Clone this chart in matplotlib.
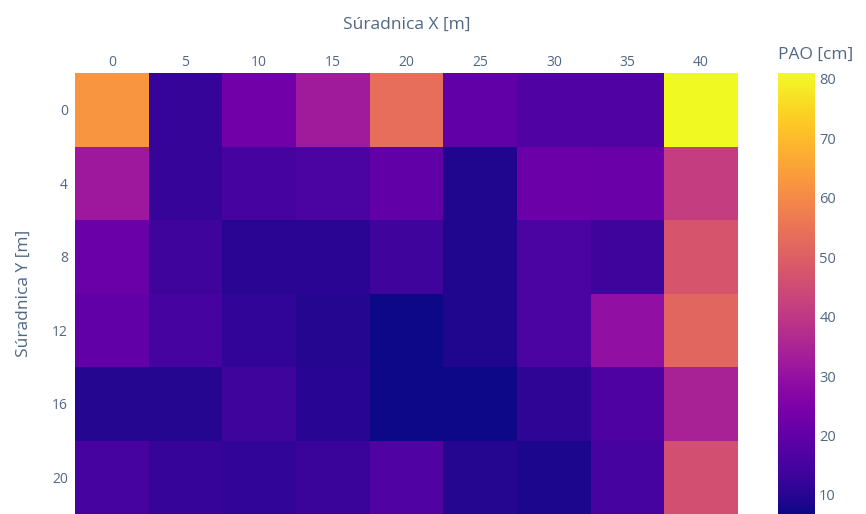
import matplotlib
matplotlib.use('Agg')
import matplotlib.pyplot as plt
import numpy as np

# súradnice meracích bodov
x_coords = [0, 5, 10, 15, 20, 25, 30, 35, 40]
y_coords = [0, 4, 8, 12, 16, 20]

# PAO [cm] odčítané z mapy, riadok = Y, stĺpec = X
pao_y0 = [62.5, 12.5, 23.0, 32.5, 53.5, 20.0, 17.0, 17.0, 81.0]
pao_y4 = [32.0, 12.5, 15.0, 16.0, 20.0, 9.0, 22.0, 21.5, 41.5]
pao_y8 = [21.5, 13.5, 10.5, 10.5, 13.5, 9.0, 16.0, 14.0, 47.5]
pao_y12 = [20.0, 15.0, 11.5, 9.5, 7.0, 9.0, 16.0, 29.5, 52.0]
pao_y16 = [9.5, 9.5, 13.5, 10.0, 6.8, 7.0, 11.0, 16.5, 34.5]
pao_y20 = [15.0, 12.5, 11.5, 13.0, 17.0, 9.5, 8.5, 15.0, 46.0]

z = np.array([pao_y0, pao_y4, pao_y8, pao_y12, pao_y16, pao_y20])

txt = '#506784'
plt.rcParams['font.family'] = ['Open Sans', 'DejaVu Sans']

fig = plt.figure(figsize=(8.66, 5.14), dpi=100)
ax = fig.add_axes([75/866, 0, (738-75)/866, (514-73)/514])

mesh = ax.pcolormesh(x_coords, y_coords, z, cmap='plasma', shading='nearest',
                     vmin=z.min(), vmax=z.max())
ax.set_xlim(-2.5, 42.5)
ax.set_ylim(22, -2)
ax.xaxis.tick_top()
ax.xaxis.set_label_position('top')
ax.set_xticks(x_coords)
ax.set_yticks(y_coords)
ax.tick_params(length=0, labelsize=10, labelcolor=txt)
ax.tick_params(axis='x', pad=2)
ax.tick_params(axis='y', pad=5)
for s in ax.spines.values():
    s.set_visible(False)
ax.set_xlabel('Súradnica X [m]', fontsize=12.5, color=txt, labelpad=19)
ax.set_ylabel('Súradnica Y [m]', fontsize=12.5, color=txt, labelpad=15)

cax = fig.add_axes([778/866, 0, (815-778)/866, (514-73)/514])
cb = fig.colorbar(mesh, cax=cax)
cb.outline.set_visible(False)
cb.set_ticks([10, 20, 30, 40, 50, 60, 70, 80])
cax.tick_params(length=0, labelsize=10.5, labelcolor=txt, pad=3)
cax.set_title('PAO [cm]', fontsize=12.5, color=txt, loc='left', pad=10)

fig.savefig('out.png', dpi=100)
